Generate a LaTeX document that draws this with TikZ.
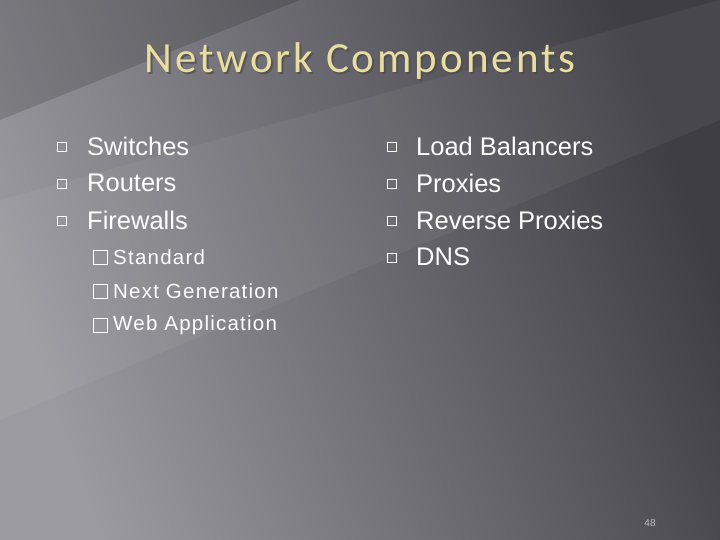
\documentclass[tikz,border=0pt]{standalone}
\usepackage{fontspec}
\setmainfont{Liberation Sans}
\newfontfamily\titlefont[LetterSpace=7]{Carlito}
\newfontfamily\subfont[LetterSpace=6]{Liberation Sans}
\definecolor{titlec}{HTML}{E9DDA2}
\definecolor{bgdark}{HTML}{3E3E44}
\definecolor{bglight}{HTML}{9A9AA0}
\tikzset{
  item/.style={anchor=west, text=white, font=\fontsize{25.5}{25}\selectfont, inner sep=0pt},
  subitem/.style={anchor=west, text=white, font=\subfont\fontsize{20.5}{20}\selectfont, inner sep=0pt},
  bul/.style={draw=white, line width=0.8pt, minimum size=9pt, inner sep=0pt},
  sbul/.style={draw=white, line width=1pt, minimum size=14pt, inner sep=0pt},
  ttl/.style={font=\titlefont\fontsize{43}{43}\selectfont},
}
\begin{document}
\begin{tikzpicture}[x=1pt,y=-1pt]
\useasboundingbox (0,0) rectangle (720,540);
\shade[left color=bglight, right color=bgdark, shading angle=110] (0,0) rectangle (720,540);
\fill[black, opacity=0.15] (0,0) -- (300,0) -- (0,120) -- cycle;
\fill[white, opacity=0.05] (0,200) -- (720,0) -- (720,120) -- (0,420) -- cycle;
\node (shadow) [ttl, text=black!70, opacity=0.7] at (362,63) {Network Components};
\node (title) [ttl, text=titlec] at (360,61) {Network Components};
% left column
\node (b1) [bul] at (62,147) {}; \node (l1) [item] at (87,146) {Switches};
\node (b2) [bul] at (62,184) {}; \node (l2) [item] at (87,183) {Routers};
\node (b3) [bul] at (62,221) {}; \node (l3) [item] at (87,220) {Firewalls};
\node (s1b) [sbul] at (100,257) {}; \node (s1) [subitem] at (113,257) {Standard};
\node (s2b) [sbul] at (100,291) {}; \node (s2) [subitem] at (113,291) {Next Generation};
\node (s3b) [sbul] at (100,325) {}; \node (s3) [subitem] at (113,325) {Web Application};
% right column
\node (r1b) [bul] at (392,147) {}; \node (r1) [item] at (416,146) {Load Balancers};
\node (r2b) [bul] at (392,184) {}; \node (r2) [item] at (416,183) {Proxies};
\node (r3b) [bul] at (392,221) {}; \node (r3) [item] at (416,220) {Reverse Proxies};
\node (r4b) [bul] at (392,258) {}; \node (r4) [item] at (416,257) {DNS};
\node (pg) [text=black!25, font=\fontsize{10}{10}\selectfont] at (650,523) {48};
\end{tikzpicture}
\end{document}
